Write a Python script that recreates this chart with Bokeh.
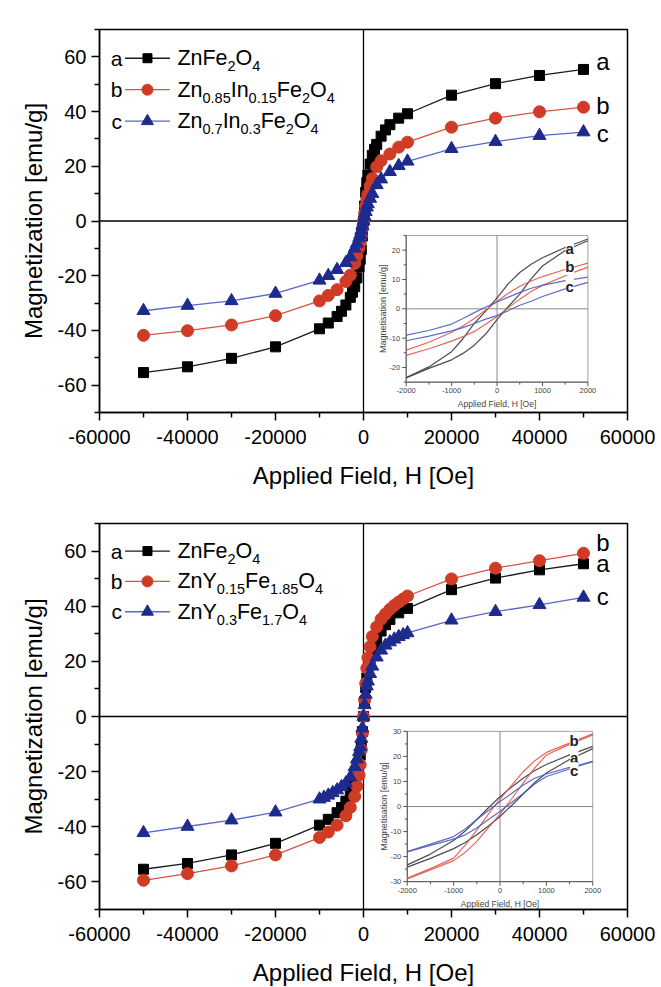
from math import pi
from bokeh.plotting import figure
from bokeh.layouts import column
from bokeh.models import Range1d, FixedTicker, Span, Label
from bokeh.core.properties import value
from bokeh.embed import file_html
from bokeh.resources import INLINE

FONT = "Liberation Sans"

# ---------------- axis ticks ----------------
X_TICKS = [-60000, -40000, -20000, 0, 20000, 40000, 60000]
X_TICK_LABELS = ["-60000", "-40000", "-20000", "0", "20000", "40000", "60000"]
X_MINOR = [-50000, -30000, -10000, 10000, 30000, 50000]
Y_TICKS = [-60, -40, -20, 0, 20, 40, 60]
Y_TICK_LABELS = ["-60", "-40", "-20", "0", "20", "40", "60"]
Y_MINOR = [-70, -50, -30, -10, 10, 30, 50, 70]

INSET_X_TICKS = [-2000, -1000, 0, 1000, 2000]
INSET_X_LABELS = ["-2000", "-1000", "0", "1000", "2000"]
INSET_X_MINOR = [-1500, -500, 500, 1500]
INSET_A_Y_TICKS = [-20, -10, 0, 10, 20]
INSET_A_Y_LABELS = ["-20", "-10", "0", "10", "20"]
INSET_A_Y_MINOR = [-25, -15, -5, 5, 15, 25]
INSET_B_Y_TICKS = [-30, -20, -10, 0, 10, 20, 30]
INSET_B_Y_LABELS = ["-30", "-20", "-10", "0", "10", "20", "30"]
INSET_B_Y_MINOR = [-25, -15, -5, 5, 15, 25]

# ---------------- main data ----------------
# ZnFe2O4 (same sample in both panels)
H_ZNFE = [-50000, -40000, -30000, -20000, -10000, -8000, -6000, -5000, -4000, -3000,
          -2500, -2000, -1500, -1000, -750, -500, -250, 0, 250, 500,
          750, 1000, 1500, 2000, 2500, 3000, 4000, 5000, 6000, 8000,
          10000, 20000, 30000, 40000, 50000]
M_ZNFE = [-55.4, -53.3, -50.2, -46.0, -39.4, -37.3, -34.9, -33.0, -30.7, -27.9,
          -26.0, -24.0, -20.8, -16.8, -14.0, -10.5, -5.5, 0.0, 5.5, 10.5,
          14.0, 16.8, 20.8, 24.0, 26.2, 28.0, 31.0, 33.3, 35.2, 37.6,
          39.2, 46.0, 50.2, 53.2, 55.4]

# Panel a: In-substituted
H_IN = [-50000, -40000, -30000, -20000, -10000, -8000, -6000, -4000, -3000, -2000,
        -1500, -1000, -750, -500, -250, 0, 250, 500, 750, 1000,
        1500, 2000, 3000, 4000, 6000, 8000, 10000, 20000, 30000, 40000, 50000]
M_IN15 = [-41.8, -40.1, -38.0, -34.6, -29.2, -27.2, -25.1, -22.1, -19.8, -15.5,
          -12.8, -9.8, -7.8, -5.5, -2.8, 0.0, 2.8, 5.5, 7.8, 9.8,
          12.8, 15.5, 19.8, 22.0, 24.5, 27.0, 28.8, 34.3, 37.6, 39.9, 41.6]
M_IN30 = [-32.8, -30.9, -29.2, -26.5, -21.7, -20.0, -17.8, -15.3, -13.2, -10.0,
          -8.2, -6.2, -5.0, -3.4, -1.7, 0.0, 1.7, 3.4, 5.0, 6.2,
          8.2, 10.0, 13.2, 15.3, 18.0, 20.2, 21.8, 26.4, 29.0, 31.2, 32.5]

# Panel b: Y-substituted
H_Y15 = [-50000, -40000, -30000, -20000, -10000, -8000, -6000, -4000, -3000, -2000,
         -1500, -1000, -750, -500, -250, 0, 250, 500, 750, 1000,
         1500, 2000, 3000, 4000, 5000, 6000, 7000, 8000, 9000, 10000,
         20000, 30000, 40000, 50000]
M_Y15 = [-59.4, -57.0, -54.2, -50.2, -43.9, -41.9, -39.4, -36.0, -33.0, -29.0,
         -25.3, -21.3, -17.5, -12.0, -6.0, 0.0, 6.0, 12.0, 17.5, 21.3,
         25.3, 29.0, 32.5, 35.3, 37.2, 38.9, 40.3, 41.5, 42.6, 43.7,
         49.9, 53.8, 56.5, 59.2]
H_Y30 = [-50000, -40000, -30000, -20000, -10000, -9000, -8000, -7000, -6000, -5000,
         -4000, -3000, -2000, -1500, -1000, -750, -500, -250, 0, 250,
         500, 750, 1000, 1500, 2000, 3000, 4000, 5000, 6000, 7000,
         8000, 9000, 10000, 20000, 30000, 40000, 50000]
M_Y30 = [-42.2, -39.9, -37.6, -34.7, -30.0, -29.4, -28.6, -27.7, -26.7, -25.5,
         -24.2, -22.0, -18.2, -15.5, -12.8, -11.0, -8.0, -4.2, 0.0, 4.2,
         8.0, 11.0, 12.8, 15.5, 18.2, 21.5, 24.0, 25.8, 27.0, 28.0,
         28.9, 29.6, 30.3, 34.9, 38.0, 40.5, 43.2]

# ---------------- inset loops (low field) ----------------
LOOP_H_DESC = [2000, 1500, 1000, 750, 500, 250, 0, -250, -500, -750, -1000, -1500, -2000]
LOOP_H_ASC = [-2000, -1500, -1000, -750, -500, -250, 0, 250, 500, 750, 1000, 1500, 2000]

IA_ZNFE_DESC = [23.8, 20.9, 17.4, 15.2, 12.4, 8.6, 3.7, -0.8, -5.0, -10.2, -14.6, -19.8, -23.4]
IA_ZNFE_ASC = [-23.6, -20.3, -17.4, -15.2, -12.4, -8.6, -3.7, 0.8, 5.0, 10.2, 14.6, 19.9, 23.2]
IA_IN15_DESC = [15.6, 13.4, 11.0, 9.5, 7.7, 5.3, 2.6, -0.4, -3.3, -5.9, -8.0, -11.4, -14.1]
IA_IN15_ASC = [-15.9, -13.6, -11.0, -9.5, -7.7, -5.3, -2.6, 0.4, 3.3, 5.9, 8.0, 11.3, 14.2]
IA_IN30_DESC = [10.8, 9.6, 8.0, 7.0, 5.6, 4.0, 2.3, 0.6, -1.3, -3.3, -5.2, -7.4, -9.0]
IA_IN30_ASC = [-10.9, -9.3, -7.5, -6.4, -5.0, -3.5, -2.3, -0.6, 1.2, 2.6, 4.2, 6.8, 9.0]

IB_ZNFE_DESC = [24.0, 20.6, 16.8, 14.4, 11.3, 7.8, 3.9, -0.5, -5.2, -9.8, -13.6, -19.0, -23.3]
IB_ZNFE_ASC = [-24.2, -20.7, -16.8, -14.4, -11.3, -7.8, -4.0, 0.4, 5.0, 9.6, 13.4, 18.8, 23.1]
IB_Y15_DESC = [29.0, 25.3, 21.6, 18.3, 13.9, 8.4, 3.0, -3.0, -9.4, -15.4, -20.6, -24.8, -28.6]
IB_Y15_ASC = [-28.9, -25.3, -21.6, -18.3, -13.9, -8.4, -3.0, 3.0, 9.4, 15.4, 20.6, 24.8, 28.6]
IB_Y30_DESC = [18.0, 15.6, 13.0, 11.3, 8.6, 5.2, 2.0, -1.6, -5.2, -9.0, -12.0, -15.0, -18.0]
IB_Y30_ASC = [-18.1, -15.5, -13.0, -11.3, -8.6, -5.2, -2.0, 1.6, 5.2, 9.0, 12.0, 15.0, 17.9]

# ---------------- legend formulas (text, is_subscript) ----------------
F_ZNFE = [("ZnFe", 0), ("2", 1), ("O", 0), ("4", 1)]
F_IN15 = [("Zn", 0), ("0.85", 1), ("In", 0), ("0.15", 1), ("Fe", 0), ("2", 1), ("O", 0), ("4", 1)]
F_IN30 = [("Zn", 0), ("0.7", 1), ("In", 0), ("0.3", 1), ("Fe", 0), ("2", 1), ("O", 0), ("4", 1)]
F_Y15 = [("ZnY", 0), ("0.15", 1), ("Fe", 0), ("1.85", 1), ("O", 0), ("4", 1)]
F_Y30 = [("ZnY", 0), ("0.3", 1), ("Fe", 0), ("1.7", 1), ("O", 0), ("4", 1)]

# ---------------- styles ----------------
STY = {
    "a": dict(marker="square", size=10, fill="#000000", line="#1a1a1a"),
    "b": dict(marker="circle", size=12, fill="#cf3b25", line="#d8533e"),
    "c": dict(marker="triangle", size=13, fill="#1d2a8e", line="#5866c6"),
}
INSET_COL = {"a": "#3a3a3a", "b": "#e0584a", "c": "#4d5cc4"}

ADV = {"Z": .611, "n": .556, "F": .611, "e": .556, "O": .778, "I": .278,
       "Y": .667, ".": .278}
MAIN_PX, SUB_PX = 21.5, 14.5


def tv(s):
    return value(s)


def make_panel(letter, letter_y, borders, series, legend, end_labels, inset):
    top, fh, bottom = borders
    p = figure(frame_width=528, frame_height=fh,
               x_range=Range1d(-60000, 60000), y_range=Range1d(-70, 70),
               output_backend="svg", toolbar_location=None,
               min_border_left=99, min_border_right=34,
               min_border_top=top, min_border_bottom=bottom,
               background_fill_color="white", border_fill_color="white")
    p.xgrid.visible = False
    p.ygrid.visible = False
    p.outline_line_color = "black"
    p.outline_line_width = 1.5
    p.outline_line_alpha = 1.0

    p.xaxis.ticker = FixedTicker(ticks=X_TICKS, minor_ticks=X_MINOR)
    p.xaxis.major_label_overrides = dict(zip(X_TICKS, X_TICK_LABELS))
    p.yaxis.ticker = FixedTicker(ticks=Y_TICKS, minor_ticks=Y_MINOR)
    p.yaxis.major_label_overrides = dict(zip(Y_TICKS, Y_TICK_LABELS))
    p.xaxis.axis_label = "Applied Field, H [Oe]"
    p.yaxis.axis_label = "Magnetization [emu/g]"
    for ax in (p.xaxis[0], p.yaxis[0]):
        ax.axis_line_width = 1.5
        ax.axis_line_color = "black"
        ax.major_tick_line_width = 1.5
        ax.minor_tick_line_width = 1.5
        ax.major_tick_line_color = "black"
        ax.minor_tick_line_color = "black"
        ax.major_tick_out = 8
        ax.major_tick_in = 0
        ax.minor_tick_out = 5
        ax.minor_tick_in = 0
        ax.major_label_text_font = FONT
        ax.major_label_text_font_size = "20px"
        ax.major_label_text_color = "black"
        ax.axis_label_text_font = FONT
        ax.axis_label_text_font_size = "24px"
        ax.axis_label_text_font_style = "normal"
        ax.axis_label_text_color = "black"
    p.xaxis.major_label_standoff = 9
    p.xaxis.axis_label_standoff = 15
    p.yaxis.major_label_standoff = 5
    p.yaxis.axis_label_standoff = 8

    p.add_layout(Span(location=0, dimension="width", line_color="black",
                      line_width=1.3, level="underlay"))
    p.add_layout(Span(location=0, dimension="height", line_color="black",
                      line_width=1.3, level="underlay"))

    for key, H, M in series:
        s = STY[key]
        p.line(H, M, line_color=s["line"], line_width=1.3)
        p.scatter(H, M, marker=s["marker"], size=s["size"],
                  fill_color=s["fill"], line_color=s["fill"])

    # legend (hand-built, Origin style)
    for key, yrow, pieces in legend:
        s = STY[key]
        p.text(x=[-56100], y=[yrow], text=[key], text_font=tv(FONT),
               text_font_size=tv("21px"), text_align="center",
               text_baseline="middle", text_color="black")
        p.segment(x0=[-54200], x1=[-44000], y0=[yrow], y1=[yrow],
                  line_color=s["line"], line_width=1.3)
        p.scatter(x=[-49100], y=[yrow], marker=s["marker"], size=s["size"] - 1,
                  fill_color=s["fill"], line_color=s["fill"])
        off = 0.0
        mx, my, mt, mo = [], [], [], []
        sx, sy, st, so = [], [], [], []
        for txt, sub in pieces:
            fs = SUB_PX if sub else MAIN_PX
            if sub:
                sx.append(-42300); sy.append(yrow); st.append(txt); so.append(off)
            else:
                mx.append(-42300); my.append(yrow); mt.append(txt); mo.append(off)
            off += sum(ADV.get(c, .556) for c in txt) * fs
        p.text(x=mx, y=my, text=mt, x_offset=mo, text_font=tv(FONT),
               text_font_size=tv("%gpx" % MAIN_PX), text_align="left",
               text_baseline="middle", text_color="black")
        p.text(x=sx, y=sy, text=st, x_offset=so, y_offset=[8] * len(st),
               text_font=tv(FONT), text_font_size=tv("%gpx" % SUB_PX),
               text_align="left", text_baseline="middle", text_color="black")

    # end-of-curve labels
    p.text(x=[54400] * len(end_labels), y=[e[1] for e in end_labels],
           text=[e[0] for e in end_labels], text_font=tv(FONT),
           text_font_size=tv("24px"), text_align="center",
           text_baseline="middle", text_color="black")

    p.add_layout(Label(x=-79800, y=letter_y, text=letter, text_font=FONT,
                       text_font_size="31px", text_baseline="alphabetic",
                       text_color="black"))

    draw_inset(p, **inset)
    return p


def draw_inset(p, xt, yt, ylim, yticks, ylabels, yminor, loops, labels):
    ins = p.subplot(x_source=Range1d(-2000, 2000), y_source=Range1d(-ylim, ylim),
                    x_target=Range1d(*xt), y_target=Range1d(*yt))
    ins.quad(left=[-2000], right=[2000], bottom=[-ylim], top=[ylim],
             fill_color="white", line_color="#a0a0a0", line_width=1)
    ins.segment(x0=[-2000, -2000], y0=[-ylim, -ylim], x1=[2000, -2000], y1=[-ylim, ylim],
                line_color="#555555", line_width=1)
    ins.segment(x0=[0, -2000], y0=[-ylim, 0], x1=[0, 2000], y1=[ylim, 0],
                line_color="#7a7a7a", line_width=0.9)
    for hd, md, ha, ma, key in loops:
        ins.line(hd, md, line_color=INSET_COL[key], line_width=1.2, line_alpha=0.9)
        ins.line(ha, ma, line_color=INSET_COL[key], line_width=1.2, line_alpha=0.9)
    n = len(INSET_X_TICKS)
    ins.ray(x=INSET_X_TICKS, y=[-ylim] * n, length=4, length_units="screen",
            angle=-pi / 2, line_color="#555555", line_width=1)
    ins.ray(x=INSET_X_MINOR, y=[-ylim] * len(INSET_X_MINOR), length=2.5,
            length_units="screen", angle=-pi / 2, line_color="#555555", line_width=1)
    ins.ray(x=[-2000] * len(yticks), y=yticks, length=4, length_units="screen",
            angle=pi, line_color="#555555", line_width=1)
    ins.ray(x=[-2000] * len(yminor), y=yminor, length=2.5, length_units="screen",
            angle=pi, line_color="#555555", line_width=1)
    ins.text(x=INSET_X_TICKS, y=[-ylim] * n, text=INSET_X_LABELS, y_offset=[6] * n,
             text_font=tv(FONT), text_font_size=tv("7.5px"), text_align="center",
             text_baseline="top", text_color="#444444")
    ins.text(x=[-2000] * len(yticks), y=yticks, text=ylabels,
             x_offset=[-6] * len(yticks), text_font=tv(FONT),
             text_font_size=tv("7.5px"), text_align="right",
             text_baseline="middle", text_color="#444444")
    ins.text(x=[0], y=[-ylim], text=["Applied Field, H [Oe]"], y_offset=[17],
             text_font=tv(FONT), text_font_size=tv("8.5px"), text_align="center",
             text_baseline="top", text_color="#444444")
    ins.text(x=[-2000], y=[0], text=["Magnetisation [emu/g]"], x_offset=[-23],
             angle=pi / 2, text_font=tv(FONT), text_font_size=tv("9px"),
             text_align="center", text_baseline="middle", text_color="#444444")
    ins.text(x=[1600] * len(labels), y=[l[1] for l in labels],
             text=[l[0] for l in labels], text_font=tv(FONT),
             text_font_size=tv("15px"), text_font_style="bold",
             text_align="center", text_baseline="middle", text_color="#222222",
             background_fill_color="white")


pa = make_panel(
    "a", 70.4, (29, 383, 83),
    [("a", H_ZNFE, M_ZNFE), ("b", H_IN, M_IN15), ("c", H_IN, M_IN30)],
    [("a", 59.5, F_ZNFE), ("b", 48.0, F_IN15), ("c", 36.5, F_IN30)],
    [("a", 58.2), ("b", 42.3), ("c", 31.9)],
    dict(xt=(9700, 51000), yt=(-58.9, -5.3), ylim=25,
         yticks=INSET_A_Y_TICKS, ylabels=INSET_A_Y_LABELS, yminor=INSET_A_Y_MINOR,
         loops=[(LOOP_H_DESC, IA_ZNFE_DESC, LOOP_H_ASC, IA_ZNFE_ASC, "a"),
                (LOOP_H_DESC, IA_IN15_DESC, LOOP_H_ASC, IA_IN15_ASC, "b"),
                (LOOP_H_DESC, IA_IN30_DESC, LOOP_H_ASC, IA_IN30_ASC, "c")],
         labels=[("a", 20.5), ("b", 14.4), ("c", 7.6)]),
)

pb = make_panel(
    "b", 67.5, (28, 386, 78),
    [("a", H_ZNFE, M_ZNFE), ("b", H_Y15, M_Y15), ("c", H_Y30, M_Y30)],
    [("a", 60.0, F_ZNFE), ("b", 49.0, F_Y15), ("c", 38.0, F_Y30)],
    [("b", 63.0), ("a", 55.4), ("c", 43.6)],
    dict(xt=(9950, 52100), yt=(-59.9, -5.4), ylim=30,
         yticks=INSET_B_Y_TICKS, ylabels=INSET_B_Y_LABELS, yminor=INSET_B_Y_MINOR,
         loops=[(LOOP_H_DESC, IB_ZNFE_DESC, LOOP_H_ASC, IB_ZNFE_ASC, "a"),
                (LOOP_H_DESC, IB_Y15_DESC, LOOP_H_ASC, IB_Y15_ASC, "b"),
                (LOOP_H_DESC, IB_Y30_DESC, LOOP_H_ASC, IB_Y30_ASC, "c")],
         labels=[("b", 26.5), ("a", 19.6), ("c", 14.3)]),
)

layout = column(pa, pb)
open("out.html", "w").write(file_html(layout, INLINE))
